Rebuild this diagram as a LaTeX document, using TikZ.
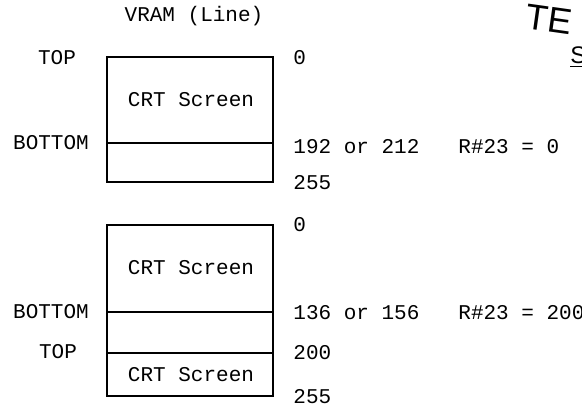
\documentclass[tikz,border=0pt]{standalone}
\usepackage{fontspec}
\setmonofont{Liberation Mono}
\newfontfamily\handfont{Liberation Sans}
\usetikzlibrary{positioning}

\tikzset{
    lbl/.style={font=\ttfamily\fontsize{10.5}{12}\selectfont, inner sep=0pt},
    boxline/.style={line width=1pt},
}

\begin{document}
\begin{tikzpicture}[x=0.5pt, y=-0.5pt]
    \useasboundingbox (0,0) rectangle (582,408);

    \node[lbl] (title) at (194,16) {VRAM (Line)};

    % upper map, R#23 = 0
    \draw[boxline] (107,57) rectangle (273,182);
    \draw[boxline] (107,143) -- (273,143);
    \node[lbl] (crtA) at (191,100) {CRT Screen};

    \node[lbl] (topA) at (57,58) {TOP};
    \node[lbl] (botA) at (51,143) {BOTTOM};
    \node[lbl, anchor=west] (zeroA) at (293,58) {0};
    \node[lbl, anchor=west] (lineA) at (293,147) {192 or 212};
    \node[lbl, anchor=west] (regA) at (458,147) {R\#23 = 0};
    \node[lbl, anchor=west] (endA) at (293,183) {255};

    % lower map, R#23 = 200
    \draw[boxline] (107,225) rectangle (273,396);
    \draw[boxline] (107,312) -- (273,312);
    \draw[boxline] (107,353) -- (273,353);
    \node[lbl] (crtB) at (191,268) {CRT Screen};
    \node[lbl] (crtC) at (191,375) {CRT Screen};

    \node[lbl] (botB) at (51,312) {BOTTOM};
    \node[lbl] (topB) at (58,352) {TOP};
    \node[lbl, anchor=west] (zeroB) at (293,225) {0};
    \node[lbl, anchor=west] (lineB) at (293,313) {136 or 156};
    \node[lbl, anchor=west] (regB) at (458,313) {R\#23 = 200};
    \node[lbl, anchor=west] (scrB) at (293,353) {200};
    \node[lbl, anchor=west] (endB) at (293,397) {255};

    % handwritten note, cut at the edge
    \node[font=\handfont\fontsize{18}{20}\selectfont, rotate=-8, anchor=west, inner sep=0pt] (hand) at (526,16) {TE};
    \node[font=\handfont\fontsize{12}{14}\selectfont, anchor=west, inner sep=0pt] (handS) at (570,57) {\underline{S}};
\end{tikzpicture}
\end{document}
